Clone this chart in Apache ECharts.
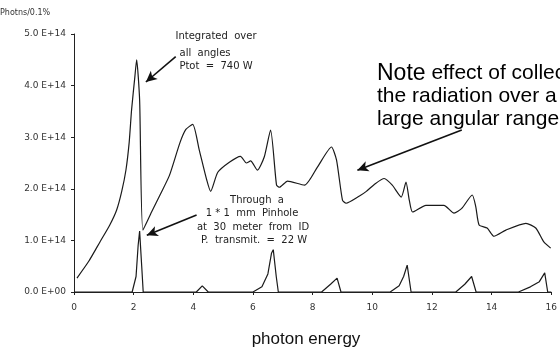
<!DOCTYPE html>
<html>
<head>
<meta charset="utf-8">
<script src="https://cdn.jsdelivr.net/npm/echarts@6/dist/echarts.min.js"></script>
<style>
  html, body { margin: 0; padding: 0; background: #fff; }
  #chart { width: 560px; height: 354px; }
</style>
</head>
<body>
<div id="chart"></div>
<script>
// photon flux in units of 1E+14 photons/0.1%
const integratedEnergy = [0.1, 0.5, 0.87, 1.2, 1.43, 1.6, 1.74, 1.85, 1.93, 2.04, 2.1, 2.2, 2.31, 2.6, 2.9, 3.2, 3.55, 3.75, 3.98, 4.2, 4.45, 4.58, 4.82, 5.22, 5.58, 5.78, 5.92, 6.15, 6.38, 6.59, 6.79, 6.89, 7.16, 7.73, 8.16, 8.63, 8.8, 9.0, 9.12, 9.57, 9.8, 10.1, 10.4, 10.67, 10.97, 11.13, 11.24, 11.35, 11.8, 12.4, 12.74, 13.0, 13.35, 13.47, 13.58, 13.85, 14.08, 14.48, 15.15, 15.48, 15.75, 15.98]
const integratedFlux = [0.27, 0.6, 0.97, 1.3, 1.59, 1.95, 2.36, 2.9, 3.53, 4.17, 4.5, 3.72, 1.2, 1.55, 1.9, 2.26, 2.89, 3.15, 3.25, 2.75, 2.17, 1.95, 2.32, 2.52, 2.63, 2.5, 2.54, 2.36, 2.62, 3.14, 2.07, 2.03, 2.15, 2.07, 2.42, 2.81, 2.56, 1.78, 1.72, 1.86, 1.95, 2.1, 2.2, 2.07, 1.84, 2.13, 1.78, 1.55, 1.68, 1.68, 1.53, 1.62, 1.88, 1.65, 1.3, 1.24, 1.08, 1.2, 1.33, 1.24, 0.97, 0.85]

const pinholeEnergy = [0, 1.95, 2.08, 2.15, 2.2, 2.27, 2.32, 4.1, 4.3, 4.5, 6.0, 6.3, 6.5, 6.62, 6.68, 6.78, 6.85, 8.3, 8.6, 8.82, 8.95, 10.6, 10.9, 11.05, 11.17, 11.3, 12.8, 13.1, 13.33, 13.48, 14.9, 15.3, 15.6, 15.78, 15.88, 16]
const pinholeFlux = [0, 0, 0.3, 0.9, 1.18, 0.5, 0, 0, 0.12, 0, 0, 0.1, 0.35, 0.75, 0.82, 0.3, 0, 0, 0.15, 0.27, 0, 0, 0.12, 0.3, 0.52, 0, 0, 0.15, 0.3, 0, 0, 0.1, 0.2, 0.37, 0, 0]

// arrows: [fromEnergy, fromFlux, toEnergy, toFlux]
const arrows = [
  [3.41, 4.56, 2.41, 4.07],
  [13.0, 3.14, 9.5, 2.36],
  [4.11, 1.49, 2.44, 1.1],
]

const zip = (xs, ys) => xs.map((x, i) => [x, ys[i]])

const chart = echarts.init(document.getElementById('chart'), null, { renderer: 'canvas' })

const smallText = { fontFamily: 'DejaVu Sans', fontSize: 10, fill: '#222', textAlign: 'center', textVerticalAlign: 'middle' }
const bigText = { fontFamily: 'Liberation Sans', fontSize: 21, fill: '#000', textVerticalAlign: 'alphabetic' }

chart.setOption({
  backgroundColor: '#fff',
  animation: false,
  grid: { left: 74, right: 8, top: 34, bottom: 62 },
  xAxis: {
    type: 'value',
    min: 0,
    max: 16,
    interval: 2,
    splitLine: { show: false },
    axisLine: { lineStyle: { color: '#222', width: 1 } },
    axisTick: { length: 3, lineStyle: { color: '#222' } },
    axisLabel: { color: '#333', fontSize: 9, fontFamily: 'DejaVu Sans', margin: 11 },
  },
  yAxis: {
    type: 'value',
    min: 0,
    max: 5,
    interval: 1,
    splitLine: { show: false },
    axisLine: { show: true, lineStyle: { color: '#222', width: 1 } },
    axisTick: { show: true, length: 3, lineStyle: { color: '#222' } },
    axisLabel: {
      color: '#333',
      fontSize: 9,
      fontFamily: 'DejaVu Sans',
      margin: 8,
      formatter: (v) => v.toFixed(1) + (v === 0 ? ' E+00' : ' E+14'),
    },
  },
  series: [
    {
      type: 'line',
      data: zip(integratedEnergy, integratedFlux),
      showSymbol: false,
      smooth: 0.2,
      lineStyle: { color: '#1a1a1a', width: 1.2 },
      markLine: {
        silent: true,
        symbol: ['none', 'arrow'],
        symbolSize: [8, 11],
        label: { show: false },
        lineStyle: { color: '#111', width: 1.6, type: 'solid' },
        data: arrows.map((a) => [{ coord: [a[0], a[1]] }, { coord: [a[2], a[3]] }]),
      },
    },
    {
      type: 'line',
      data: zip(pinholeEnergy, pinholeFlux),
      showSymbol: false,
      lineStyle: { color: '#1a1a1a', width: 1.2 },
    },
  ],
  graphic: [
    { type: 'text', left: 0, top: 9, style: { text: 'Photns/0.1%', fontFamily: 'DejaVu Sans', fontSize: 8, fill: '#333' } },
    { type: 'text', x: 216, y: 36, style: { ...smallText, text: 'Integrated  over' } },
    { type: 'text', x: 205, y: 53, style: { ...smallText, text: 'all  angles' } },
    { type: 'text', x: 216, y: 66, style: { ...smallText, text: 'Ptot  =  740 W' } },
    { type: 'text', x: 257, y: 200, style: { ...smallText, text: 'Through  a' } },
    { type: 'text', x: 252, y: 213, style: { ...smallText, text: '1 * 1  mm  Pinhole' } },
    { type: 'text', x: 253, y: 227, style: { ...smallText, text: 'at  30  meter  from  ID' } },
    { type: 'text', x: 254, y: 240, style: { ...smallText, text: 'P.  transmit.  =  22 W' } },
    { type: 'text', x: 377, y: 62, style: { ...bigText, rich: { n: { fontSize: 23, fontFamily: 'Liberation Sans' }, r: { fontSize: 21, fontFamily: 'Liberation Sans' } }, text: '{n|Note}{r| effect of collecting}' } },
    { type: 'text', x: 377, y: 86, style: { ...bigText, text: 'the radiation over a' } },
    { type: 'text', x: 377, y: 109, style: { ...bigText, text: 'large angular range' } },
    { type: 'text', x: 306, y: 339, style: { text: 'photon energy', fontFamily: 'Liberation Sans', fontSize: 17, fill: '#111', textAlign: 'center', textVerticalAlign: 'middle' } },
  ],
})
</script>
</body>
</html>
